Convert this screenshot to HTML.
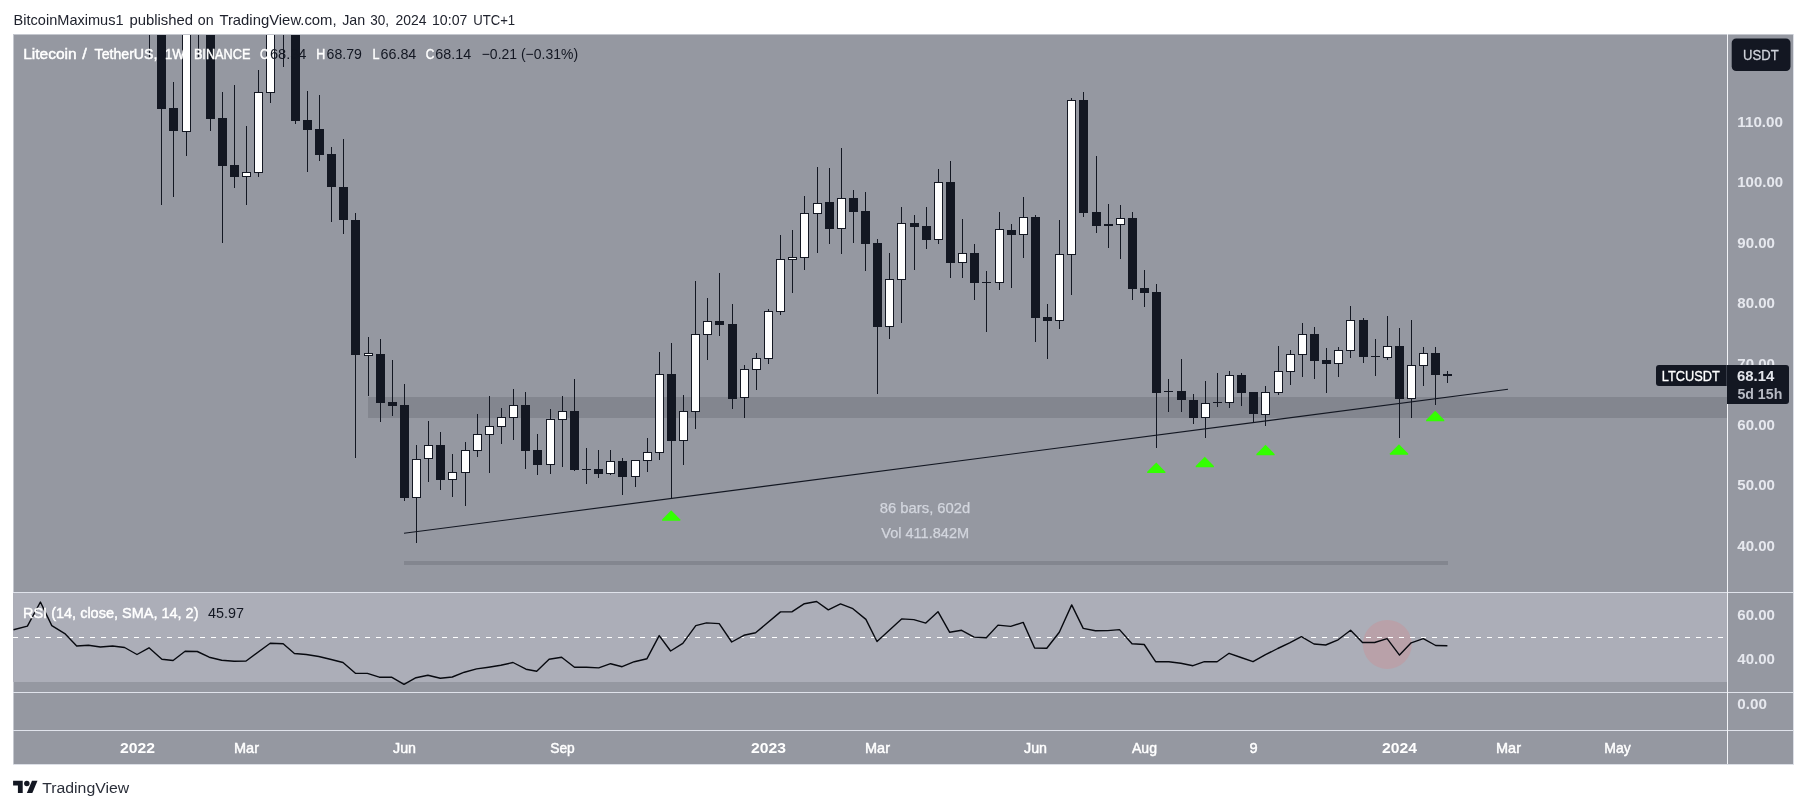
<!DOCTYPE html>
<html lang="en"><head><meta charset="utf-8"><title>LTCUSDT chart</title>
<style>
html,body{margin:0;padding:0;background:#fff;}
body{width:1807px;height:809px;overflow:hidden;position:relative;}
svg{position:absolute;left:0;top:0;display:block;will-change:transform;}
text{font-family:"Liberation Sans",sans-serif;font-size:14.6px;}
.b{font-weight:bold;stroke:none !important;font-size:15.2px;}
.ax{fill:#e6e8ee;}
.lt{fill:#ffffff;stroke:#ffffff;stroke-width:0.45px;}
.dk{fill:#131722;}
</style></head><body>
<svg width="1807" height="809" viewBox="0 0 1807 809">
<text x="13.6" y="24.9" textLength="110.0" lengthAdjust="spacingAndGlyphs" fill="#20232e">BitcoinMaximus1</text>
<text x="129.4" y="24.9" textLength="63.6" lengthAdjust="spacingAndGlyphs" fill="#20232e">published</text>
<text x="197.8" y="24.9" textLength="15.8" lengthAdjust="spacingAndGlyphs" fill="#20232e">on</text>
<text x="219.4" y="24.9" textLength="117.2" lengthAdjust="spacingAndGlyphs" fill="#20232e">TradingView.com,</text>
<text x="342.2" y="24.9" textLength="23.0" lengthAdjust="spacingAndGlyphs" fill="#20232e">Jan</text>
<text x="370.2" y="24.9" textLength="18.8" lengthAdjust="spacingAndGlyphs" fill="#20232e">30,</text>
<text x="395.6" y="24.9" textLength="31.0" lengthAdjust="spacingAndGlyphs" fill="#20232e">2024</text>
<text x="432.0" y="24.9" textLength="35.4" lengthAdjust="spacingAndGlyphs" fill="#20232e">10:07</text>
<text x="473.2" y="24.9" textLength="42.0" lengthAdjust="spacingAndGlyphs" fill="#20232e">UTC+1</text>
<g shape-rendering="crispEdges">
<rect x="13" y="34" width="1781" height="731" fill="#dcdfe6"/>
<rect x="13" y="34" width="1780" height="730" fill="#c4c7ce"/>
<rect x="14" y="35" width="1779" height="729" fill="#9598a1"/>
<rect x="368" y="397" width="1359" height="21" fill="#83868f"/>
<rect x="404" y="561" width="1044" height="4" fill="#83868f"/>
<rect x="13" y="593" width="1714" height="89" fill="#acaeb8"/>
</g>
<circle cx="1387.3" cy="644.4" r="24.5" fill="#b9a1a9"/>
<line x1="13" y1="637.5" x2="1727" y2="637.5" stroke="#ffffff" stroke-width="1" stroke-dasharray="5 6" shape-rendering="crispEdges"/>
<text x="879.8" y="512.9" textLength="90.5" lengthAdjust="spacingAndGlyphs" fill="#d3d6de" stroke="#d3d6de" stroke-width="0.25">86 bars, 602d</text>
<text x="881.3" y="537.6" textLength="87.8" lengthAdjust="spacingAndGlyphs" fill="#d3d6de" stroke="#d3d6de" stroke-width="0.25">Vol 411.842M</text>
<clipPath id="cp"><rect x="14" y="35" width="1713" height="557"/></clipPath>
<g shape-rendering="crispEdges" clip-path="url(#cp)">
<rect x="149" y="34" width="1" height="24" fill="#131722"/>
<rect x="161" y="34" width="1" height="171" fill="#131722"/>
<rect x="157" y="34" width="9" height="75" fill="#131722"/>
<rect x="173" y="82" width="1" height="115" fill="#131722"/>
<rect x="169" y="108" width="9" height="23" fill="#131722"/>
<rect x="186" y="30" width="1" height="126" fill="#131722"/>
<rect x="182" y="30" width="9" height="102" fill="#131722"/>
<rect x="183" y="31" width="7" height="100" fill="#ffffff"/>
<rect x="198" y="34" width="1" height="23" fill="#131722"/>
<rect x="210" y="34" width="1" height="97" fill="#131722"/>
<rect x="206" y="34" width="9" height="85" fill="#131722"/>
<rect x="222" y="92" width="1" height="151" fill="#131722"/>
<rect x="218" y="118" width="9" height="48" fill="#131722"/>
<rect x="234" y="85" width="1" height="103" fill="#131722"/>
<rect x="230" y="165" width="9" height="12" fill="#131722"/>
<rect x="246" y="126" width="1" height="79" fill="#131722"/>
<rect x="242" y="172" width="9" height="5" fill="#131722"/>
<rect x="243" y="173" width="7" height="3" fill="#ffffff"/>
<rect x="258" y="70" width="1" height="107" fill="#131722"/>
<rect x="254" y="92" width="9" height="81" fill="#131722"/>
<rect x="255" y="93" width="7" height="79" fill="#ffffff"/>
<rect x="270" y="30" width="1" height="73" fill="#131722"/>
<rect x="266" y="30" width="9" height="63" fill="#131722"/>
<rect x="267" y="31" width="7" height="61" fill="#ffffff"/>
<rect x="283" y="34" width="1" height="33" fill="#131722"/>
<rect x="295" y="34" width="1" height="90" fill="#131722"/>
<rect x="291" y="34" width="9" height="87" fill="#131722"/>
<rect x="307" y="91" width="1" height="81" fill="#131722"/>
<rect x="303" y="120" width="9" height="10" fill="#131722"/>
<rect x="319" y="95" width="1" height="66" fill="#131722"/>
<rect x="315" y="129" width="9" height="26" fill="#131722"/>
<rect x="331" y="147" width="1" height="75" fill="#131722"/>
<rect x="327" y="154" width="9" height="33" fill="#131722"/>
<rect x="343" y="139" width="1" height="95" fill="#131722"/>
<rect x="339" y="187" width="9" height="33" fill="#131722"/>
<rect x="355" y="213" width="1" height="245" fill="#131722"/>
<rect x="351" y="220" width="9" height="135" fill="#131722"/>
<rect x="368" y="337" width="1" height="59" fill="#131722"/>
<rect x="364" y="353" width="9" height="3" fill="#131722"/>
<rect x="365" y="354" width="7" height="1" fill="#ffffff"/>
<rect x="380" y="339" width="1" height="83" fill="#131722"/>
<rect x="376" y="354" width="9" height="49" fill="#131722"/>
<rect x="392" y="360" width="1" height="56" fill="#131722"/>
<rect x="388" y="402" width="9" height="4" fill="#131722"/>
<rect x="404" y="384" width="1" height="117" fill="#131722"/>
<rect x="400" y="405" width="9" height="93" fill="#131722"/>
<rect x="416" y="445" width="1" height="98" fill="#131722"/>
<rect x="412" y="459" width="9" height="39" fill="#131722"/>
<rect x="413" y="460" width="7" height="37" fill="#ffffff"/>
<rect x="428" y="421" width="1" height="61" fill="#131722"/>
<rect x="424" y="445" width="9" height="14" fill="#131722"/>
<rect x="425" y="446" width="7" height="12" fill="#ffffff"/>
<rect x="440" y="432" width="1" height="58" fill="#131722"/>
<rect x="436" y="445" width="9" height="35" fill="#131722"/>
<rect x="452" y="454" width="1" height="43" fill="#131722"/>
<rect x="448" y="472" width="9" height="8" fill="#131722"/>
<rect x="449" y="473" width="7" height="6" fill="#ffffff"/>
<rect x="465" y="442" width="1" height="64" fill="#131722"/>
<rect x="461" y="450" width="9" height="23" fill="#131722"/>
<rect x="462" y="451" width="7" height="21" fill="#ffffff"/>
<rect x="477" y="414" width="1" height="43" fill="#131722"/>
<rect x="473" y="434" width="9" height="17" fill="#131722"/>
<rect x="474" y="435" width="7" height="15" fill="#ffffff"/>
<rect x="489" y="396" width="1" height="77" fill="#131722"/>
<rect x="485" y="426" width="9" height="9" fill="#131722"/>
<rect x="486" y="427" width="7" height="7" fill="#ffffff"/>
<rect x="501" y="408" width="1" height="36" fill="#131722"/>
<rect x="497" y="417" width="9" height="10" fill="#131722"/>
<rect x="498" y="418" width="7" height="8" fill="#ffffff"/>
<rect x="513" y="389" width="1" height="51" fill="#131722"/>
<rect x="509" y="405" width="9" height="13" fill="#131722"/>
<rect x="510" y="406" width="7" height="11" fill="#ffffff"/>
<rect x="525" y="392" width="1" height="77" fill="#131722"/>
<rect x="521" y="405" width="9" height="46" fill="#131722"/>
<rect x="537" y="434" width="1" height="41" fill="#131722"/>
<rect x="533" y="450" width="9" height="15" fill="#131722"/>
<rect x="550" y="409" width="1" height="65" fill="#131722"/>
<rect x="546" y="419" width="9" height="46" fill="#131722"/>
<rect x="547" y="420" width="7" height="44" fill="#ffffff"/>
<rect x="562" y="396" width="1" height="71" fill="#131722"/>
<rect x="558" y="411" width="9" height="9" fill="#131722"/>
<rect x="559" y="412" width="7" height="7" fill="#ffffff"/>
<rect x="574" y="379" width="1" height="92" fill="#131722"/>
<rect x="570" y="411" width="9" height="59" fill="#131722"/>
<rect x="586" y="448" width="1" height="36" fill="#131722"/>
<rect x="582" y="469" width="9" height="1" fill="#131722"/>
<rect x="598" y="450" width="1" height="28" fill="#131722"/>
<rect x="594" y="469" width="9" height="5" fill="#131722"/>
<rect x="610" y="450" width="1" height="25" fill="#131722"/>
<rect x="606" y="461" width="9" height="13" fill="#131722"/>
<rect x="607" y="462" width="7" height="11" fill="#ffffff"/>
<rect x="622" y="458" width="1" height="37" fill="#131722"/>
<rect x="618" y="461" width="9" height="16" fill="#131722"/>
<rect x="635" y="460" width="1" height="27" fill="#131722"/>
<rect x="631" y="460" width="9" height="17" fill="#131722"/>
<rect x="632" y="461" width="7" height="15" fill="#ffffff"/>
<rect x="647" y="438" width="1" height="34" fill="#131722"/>
<rect x="643" y="452" width="9" height="9" fill="#131722"/>
<rect x="644" y="453" width="7" height="7" fill="#ffffff"/>
<rect x="659" y="352" width="1" height="108" fill="#131722"/>
<rect x="655" y="374" width="9" height="79" fill="#131722"/>
<rect x="656" y="375" width="7" height="77" fill="#ffffff"/>
<rect x="671" y="343" width="1" height="156" fill="#131722"/>
<rect x="667" y="374" width="9" height="67" fill="#131722"/>
<rect x="683" y="395" width="1" height="70" fill="#131722"/>
<rect x="679" y="411" width="9" height="30" fill="#131722"/>
<rect x="680" y="412" width="7" height="28" fill="#ffffff"/>
<rect x="695" y="281" width="1" height="148" fill="#131722"/>
<rect x="691" y="334" width="9" height="78" fill="#131722"/>
<rect x="692" y="335" width="7" height="76" fill="#ffffff"/>
<rect x="707" y="298" width="1" height="62" fill="#131722"/>
<rect x="703" y="321" width="9" height="14" fill="#131722"/>
<rect x="704" y="322" width="7" height="12" fill="#ffffff"/>
<rect x="719" y="273" width="1" height="63" fill="#131722"/>
<rect x="715" y="321" width="9" height="4" fill="#131722"/>
<rect x="732" y="304" width="1" height="105" fill="#131722"/>
<rect x="728" y="324" width="9" height="75" fill="#131722"/>
<rect x="744" y="365" width="1" height="53" fill="#131722"/>
<rect x="740" y="369" width="9" height="29" fill="#131722"/>
<rect x="741" y="370" width="7" height="27" fill="#ffffff"/>
<rect x="756" y="353" width="1" height="37" fill="#131722"/>
<rect x="752" y="358" width="9" height="12" fill="#131722"/>
<rect x="753" y="359" width="7" height="10" fill="#ffffff"/>
<rect x="768" y="309" width="1" height="55" fill="#131722"/>
<rect x="764" y="311" width="9" height="48" fill="#131722"/>
<rect x="765" y="312" width="7" height="46" fill="#ffffff"/>
<rect x="780" y="235" width="1" height="80" fill="#131722"/>
<rect x="776" y="259" width="9" height="53" fill="#131722"/>
<rect x="777" y="260" width="7" height="51" fill="#ffffff"/>
<rect x="792" y="230" width="1" height="63" fill="#131722"/>
<rect x="788" y="257" width="9" height="3" fill="#131722"/>
<rect x="789" y="258" width="7" height="1" fill="#ffffff"/>
<rect x="804" y="196" width="1" height="74" fill="#131722"/>
<rect x="800" y="213" width="9" height="45" fill="#131722"/>
<rect x="801" y="214" width="7" height="43" fill="#ffffff"/>
<rect x="817" y="167" width="1" height="86" fill="#131722"/>
<rect x="813" y="203" width="9" height="11" fill="#131722"/>
<rect x="814" y="204" width="7" height="9" fill="#ffffff"/>
<rect x="829" y="168" width="1" height="76" fill="#131722"/>
<rect x="825" y="202" width="9" height="27" fill="#131722"/>
<rect x="841" y="148" width="1" height="106" fill="#131722"/>
<rect x="837" y="198" width="9" height="31" fill="#131722"/>
<rect x="838" y="199" width="7" height="29" fill="#ffffff"/>
<rect x="853" y="190" width="1" height="53" fill="#131722"/>
<rect x="849" y="198" width="9" height="14" fill="#131722"/>
<rect x="865" y="192" width="1" height="79" fill="#131722"/>
<rect x="861" y="211" width="9" height="33" fill="#131722"/>
<rect x="877" y="239" width="1" height="155" fill="#131722"/>
<rect x="873" y="243" width="9" height="84" fill="#131722"/>
<rect x="889" y="253" width="1" height="86" fill="#131722"/>
<rect x="885" y="279" width="9" height="48" fill="#131722"/>
<rect x="886" y="280" width="7" height="46" fill="#ffffff"/>
<rect x="901" y="207" width="1" height="116" fill="#131722"/>
<rect x="897" y="223" width="9" height="57" fill="#131722"/>
<rect x="898" y="224" width="7" height="55" fill="#ffffff"/>
<rect x="914" y="215" width="1" height="55" fill="#131722"/>
<rect x="910" y="223" width="9" height="4" fill="#131722"/>
<rect x="926" y="207" width="1" height="42" fill="#131722"/>
<rect x="922" y="226" width="9" height="14" fill="#131722"/>
<rect x="938" y="169" width="1" height="75" fill="#131722"/>
<rect x="934" y="182" width="9" height="58" fill="#131722"/>
<rect x="935" y="183" width="7" height="56" fill="#ffffff"/>
<rect x="950" y="161" width="1" height="117" fill="#131722"/>
<rect x="946" y="182" width="9" height="81" fill="#131722"/>
<rect x="962" y="219" width="1" height="59" fill="#131722"/>
<rect x="958" y="253" width="9" height="10" fill="#131722"/>
<rect x="959" y="254" width="7" height="8" fill="#ffffff"/>
<rect x="974" y="244" width="1" height="56" fill="#131722"/>
<rect x="970" y="253" width="9" height="30" fill="#131722"/>
<rect x="986" y="271" width="1" height="61" fill="#131722"/>
<rect x="982" y="282" width="9" height="1" fill="#131722"/>
<rect x="999" y="212" width="1" height="78" fill="#131722"/>
<rect x="995" y="229" width="9" height="54" fill="#131722"/>
<rect x="996" y="230" width="7" height="52" fill="#ffffff"/>
<rect x="1011" y="224" width="1" height="64" fill="#131722"/>
<rect x="1007" y="230" width="9" height="5" fill="#131722"/>
<rect x="1023" y="197" width="1" height="61" fill="#131722"/>
<rect x="1019" y="217" width="9" height="18" fill="#131722"/>
<rect x="1020" y="218" width="7" height="16" fill="#ffffff"/>
<rect x="1035" y="215" width="1" height="127" fill="#131722"/>
<rect x="1031" y="217" width="9" height="101" fill="#131722"/>
<rect x="1047" y="304" width="1" height="55" fill="#131722"/>
<rect x="1043" y="317" width="9" height="4" fill="#131722"/>
<rect x="1059" y="220" width="1" height="109" fill="#131722"/>
<rect x="1055" y="254" width="9" height="67" fill="#131722"/>
<rect x="1056" y="255" width="7" height="65" fill="#ffffff"/>
<rect x="1071" y="98" width="1" height="197" fill="#131722"/>
<rect x="1067" y="100" width="9" height="155" fill="#131722"/>
<rect x="1068" y="101" width="7" height="153" fill="#ffffff"/>
<rect x="1083" y="92" width="1" height="125" fill="#131722"/>
<rect x="1079" y="100" width="9" height="113" fill="#131722"/>
<rect x="1096" y="156" width="1" height="77" fill="#131722"/>
<rect x="1092" y="212" width="9" height="14" fill="#131722"/>
<rect x="1108" y="204" width="1" height="44" fill="#131722"/>
<rect x="1104" y="224" width="9" height="2" fill="#131722"/>
<rect x="1120" y="205" width="1" height="54" fill="#131722"/>
<rect x="1116" y="218" width="9" height="7" fill="#131722"/>
<rect x="1117" y="219" width="7" height="5" fill="#ffffff"/>
<rect x="1132" y="212" width="1" height="88" fill="#131722"/>
<rect x="1128" y="218" width="9" height="71" fill="#131722"/>
<rect x="1144" y="270" width="1" height="37" fill="#131722"/>
<rect x="1140" y="288" width="9" height="5" fill="#131722"/>
<rect x="1156" y="284" width="1" height="164" fill="#131722"/>
<rect x="1152" y="292" width="9" height="101" fill="#131722"/>
<rect x="1168" y="379" width="1" height="33" fill="#131722"/>
<rect x="1164" y="391" width="9" height="1" fill="#131722"/>
<rect x="1181" y="359" width="1" height="53" fill="#131722"/>
<rect x="1177" y="391" width="9" height="9" fill="#131722"/>
<rect x="1193" y="394" width="1" height="30" fill="#131722"/>
<rect x="1189" y="400" width="9" height="18" fill="#131722"/>
<rect x="1205" y="381" width="1" height="57" fill="#131722"/>
<rect x="1201" y="403" width="9" height="15" fill="#131722"/>
<rect x="1202" y="404" width="7" height="13" fill="#ffffff"/>
<rect x="1217" y="373" width="1" height="34" fill="#131722"/>
<rect x="1213" y="402" width="9" height="1" fill="#131722"/>
<rect x="1229" y="371" width="1" height="37" fill="#131722"/>
<rect x="1225" y="375" width="9" height="28" fill="#131722"/>
<rect x="1226" y="376" width="7" height="26" fill="#ffffff"/>
<rect x="1241" y="373" width="1" height="33" fill="#131722"/>
<rect x="1237" y="375" width="9" height="18" fill="#131722"/>
<rect x="1253" y="392" width="1" height="30" fill="#131722"/>
<rect x="1249" y="392" width="9" height="22" fill="#131722"/>
<rect x="1265" y="386" width="1" height="40" fill="#131722"/>
<rect x="1261" y="392" width="9" height="23" fill="#131722"/>
<rect x="1262" y="393" width="7" height="21" fill="#ffffff"/>
<rect x="1278" y="346" width="1" height="49" fill="#131722"/>
<rect x="1274" y="371" width="9" height="22" fill="#131722"/>
<rect x="1275" y="372" width="7" height="20" fill="#ffffff"/>
<rect x="1290" y="350" width="1" height="35" fill="#131722"/>
<rect x="1286" y="354" width="9" height="18" fill="#131722"/>
<rect x="1287" y="355" width="7" height="16" fill="#ffffff"/>
<rect x="1302" y="323" width="1" height="54" fill="#131722"/>
<rect x="1298" y="334" width="9" height="21" fill="#131722"/>
<rect x="1299" y="335" width="7" height="19" fill="#ffffff"/>
<rect x="1314" y="327" width="1" height="52" fill="#131722"/>
<rect x="1310" y="334" width="9" height="27" fill="#131722"/>
<rect x="1326" y="348" width="1" height="45" fill="#131722"/>
<rect x="1322" y="360" width="9" height="4" fill="#131722"/>
<rect x="1338" y="347" width="1" height="30" fill="#131722"/>
<rect x="1334" y="350" width="9" height="14" fill="#131722"/>
<rect x="1335" y="351" width="7" height="12" fill="#ffffff"/>
<rect x="1350" y="306" width="1" height="52" fill="#131722"/>
<rect x="1346" y="320" width="9" height="31" fill="#131722"/>
<rect x="1347" y="321" width="7" height="29" fill="#ffffff"/>
<rect x="1363" y="318" width="1" height="45" fill="#131722"/>
<rect x="1359" y="320" width="9" height="37" fill="#131722"/>
<rect x="1375" y="339" width="1" height="37" fill="#131722"/>
<rect x="1371" y="356" width="9" height="1" fill="#131722"/>
<rect x="1387" y="316" width="1" height="44" fill="#131722"/>
<rect x="1383" y="346" width="9" height="12" fill="#131722"/>
<rect x="1384" y="347" width="7" height="10" fill="#ffffff"/>
<rect x="1399" y="328" width="1" height="110" fill="#131722"/>
<rect x="1395" y="346" width="9" height="53" fill="#131722"/>
<rect x="1411" y="320" width="1" height="98" fill="#131722"/>
<rect x="1407" y="365" width="9" height="34" fill="#131722"/>
<rect x="1408" y="366" width="7" height="32" fill="#ffffff"/>
<rect x="1423" y="347" width="1" height="39" fill="#131722"/>
<rect x="1419" y="353" width="9" height="13" fill="#131722"/>
<rect x="1420" y="354" width="7" height="11" fill="#ffffff"/>
<rect x="1435" y="347" width="1" height="58" fill="#131722"/>
<rect x="1431" y="353" width="9" height="22" fill="#131722"/>
<rect x="1447" y="371" width="1" height="12" fill="#131722"/>
<rect x="1443" y="374" width="9" height="2" fill="#131722"/>
</g>
<line x1="404" y1="533.3" x2="1508" y2="389.3" stroke="#131722" stroke-width="1.15"/>
<path d="M671.2 510.2 L680.3 519.5 L680.3 520.8 L662.1 520.8 L662.1 519.5 Z" fill="#33ff00"/>
<path d="M1156.3 462.5 L1165.4 471.8 L1165.4 473.1 L1147.2 473.1 L1147.2 471.8 Z" fill="#33ff00"/>
<path d="M1204.8 456.7 L1213.9 466.0 L1213.9 467.3 L1195.7 467.3 L1195.7 466.0 Z" fill="#33ff00"/>
<path d="M1265.5 444.7 L1274.6 454.0 L1274.6 455.3 L1256.4 455.3 L1256.4 454.0 Z" fill="#33ff00"/>
<path d="M1399.0 444.2 L1408.1 453.5 L1408.1 454.8 L1389.9 454.8 L1389.9 453.5 Z" fill="#33ff00"/>
<path d="M1435.2 410.7 L1444.3 420.0 L1444.3 421.3 L1426.1 421.3 L1426.1 420.0 Z" fill="#33ff00"/>
<polyline fill="none" stroke="#07090f" stroke-width="1.4" stroke-linejoin="round" points="13.5,629.8 27.4,626.1 40.4,602.0 51.8,625.6 64.8,633.6 76.7,646.0 88.4,645.3 100.4,647.0 112.6,646.0 124.6,647.5 137.0,654.5 149.0,647.8 161.9,659.2 173.1,660.5 185.1,651.3 197.3,651.5 209.2,657.2 221.7,660.2 234.1,661.2 246.1,661.0 270.2,643.3 283.2,643.8 294.4,653.5 306.3,654.5 318.8,656.5 331.2,659.5 343.0,662.5 355.4,673.2 367.4,673.4 379.3,677.2 391.5,677.2 404.0,684.4 416.0,677.7 427.9,675.2 440.3,678.2 452.3,677.0 464.4,672.2 476.6,668.9 488.6,667.2 500.8,665.2 513.0,662.5 526.0,669.2 536.7,671.2 549.1,659.2 561.6,657.2 574.5,667.2 586.5,667.2 598.7,667.9 610.6,663.7 622.1,666.7 634.3,661.7 647.0,658.7 659.2,635.6 670.6,651.0 682.8,643.3 695.8,625.6 706.5,622.9 719.2,623.6 731.7,642.0 743.9,635.3 755.6,632.8 780.5,611.9 792.2,611.7 804.4,603.7 816.6,601.5 828.3,609.9 840.5,603.9 852.9,608.7 865.9,619.4 877.0,641.5 901.6,618.9 913.8,619.6 925.8,623.1 938.0,611.7 949.7,632.3 961.6,630.3 974.1,637.1 986.3,637.8 998.0,625.1 1010.7,626.4 1023.2,622.4 1034.6,648.0 1046.8,648.3 1059.3,632.3 1071.7,604.9 1083.2,628.4 1095.4,630.8 1107.8,630.6 1119.5,629.6 1132.0,643.8 1144.2,644.5 1155.6,661.7 1168.8,661.7 1180.8,663.2 1193.0,665.7 1204.4,661.7 1217.1,661.7 1229.1,653.3 1241.0,657.5 1253.0,661.7 1265.5,654.7 1277.7,648.5 1289.6,642.8 1301.4,636.7 1314.0,644.0 1325.7,645.0 1338.1,639.8 1350.6,630.3 1362.5,642.5 1374.6,642.5 1387.1,638.6 1399.5,655.1 1411.2,642.8 1423.3,638.6 1435.7,645.5 1447.4,645.8"/>
<text x="23.2" y="58.9" textLength="53.5" lengthAdjust="spacingAndGlyphs" class="lt">Litecoin</text>
<text x="82.3" y="58.9" textLength="4.6" lengthAdjust="spacingAndGlyphs" class="lt">/</text>
<text x="94.6" y="58.9" textLength="62.8" lengthAdjust="spacingAndGlyphs" class="lt">TetherUS,</text>
<text x="164.9" y="58.9" textLength="22.6" lengthAdjust="spacingAndGlyphs" class="lt">1W,</text>
<text x="193.9" y="58.9" textLength="56.5" lengthAdjust="spacingAndGlyphs" class="lt">BINANCE</text>
<text x="259.9" y="58.9" textLength="9.2" lengthAdjust="spacingAndGlyphs" class="lt">O</text>
<text x="269.9" y="58.9" textLength="36.6" lengthAdjust="spacingAndGlyphs" class="dk">68.34</text>
<text x="316.3" y="58.9" textLength="9.0" lengthAdjust="spacingAndGlyphs" class="lt">H</text>
<text x="326.6" y="58.9" textLength="35.4" lengthAdjust="spacingAndGlyphs" class="dk">68.79</text>
<text x="372.5" y="58.9" textLength="7.0" lengthAdjust="spacingAndGlyphs" class="lt">L</text>
<text x="380.5" y="58.9" textLength="35.8" lengthAdjust="spacingAndGlyphs" class="dk">66.84</text>
<text x="425.7" y="58.9" textLength="8.6" lengthAdjust="spacingAndGlyphs" class="lt">C</text>
<text x="435.3" y="58.9" textLength="35.8" lengthAdjust="spacingAndGlyphs" class="dk">68.14</text>
<text x="481.7" y="58.9" textLength="96.4" lengthAdjust="spacingAndGlyphs" class="dk">−0.21 (−0.31%)</text>
<text x="23.0" y="617.9" textLength="175.5" lengthAdjust="spacingAndGlyphs" class="lt">RSI (14, close, SMA, 14, 2)</text>
<text x="208.0" y="617.9" textLength="36.0" lengthAdjust="spacingAndGlyphs" class="dk">45.97</text>
<g shape-rendering="crispEdges" fill="#e0e3eb">
<rect x="13" y="592" width="1780" height="1"/>
<rect x="13" y="692" width="1780" height="1"/>
<rect x="13" y="730" width="1780" height="1"/>
<rect x="1727" y="34" width="1" height="730" fill="#f3f4f8"/>
</g>
<text x="1737.3" y="126.5" textLength="45.7" lengthAdjust="spacingAndGlyphs" class="b ax">110.00</text>
<text x="1737.3" y="187.2" textLength="45.7" lengthAdjust="spacingAndGlyphs" class="b ax">100.00</text>
<text x="1737.3" y="247.8" textLength="37.7" lengthAdjust="spacingAndGlyphs" class="b ax">90.00</text>
<text x="1737.3" y="308.4" textLength="37.7" lengthAdjust="spacingAndGlyphs" class="b ax">80.00</text>
<text x="1737.3" y="369.0" textLength="37.7" lengthAdjust="spacingAndGlyphs" class="b ax">70.00</text>
<text x="1737.3" y="429.6" textLength="37.7" lengthAdjust="spacingAndGlyphs" class="b ax">60.00</text>
<text x="1737.3" y="490.2" textLength="37.7" lengthAdjust="spacingAndGlyphs" class="b ax">50.00</text>
<text x="1737.3" y="550.8" textLength="37.7" lengthAdjust="spacingAndGlyphs" class="b ax">40.00</text>
<text x="1737.3" y="619.8" textLength="37.7" lengthAdjust="spacingAndGlyphs" class="b ax">60.00</text>
<text x="1737.3" y="664.4" textLength="37.7" lengthAdjust="spacingAndGlyphs" class="b ax">40.00</text>
<text x="1737.3" y="708.7" textLength="29.6" lengthAdjust="spacingAndGlyphs" class="b ax">0.00</text>
<rect x="1731.7" y="38.5" width="58.8" height="32.6" rx="4.5" fill="#131722"/>
<text x="1743.1" y="60.2" textLength="35.6" lengthAdjust="spacingAndGlyphs" fill="#cfd2da" stroke="#cfd2da" stroke-width="0.3" style="font-size:15.1px">USDT</text>
<path d="M1659 365 H1727 V386 H1659 Q1656 386 1656 383 V368 Q1656 365 1659 365 Z" fill="#131722"/>
<text x="1661.8" y="381.0" textLength="58.0" lengthAdjust="spacingAndGlyphs" fill="#ffffff" stroke="#ffffff" stroke-width="0.35" style="font-size:15.4px">LTCUSDT</text>
<path d="M1727 365 H1786 Q1789 365 1789 368 V401 Q1789 404 1786 404 H1727 Z" fill="#131722"/>
<rect x="1726" y="365" width="1" height="21" fill="#383c48" shape-rendering="crispEdges"/>
<text x="1737.0" y="381.0" textLength="37.3" lengthAdjust="spacingAndGlyphs" class="b" fill="#e4e6ec">68.14</text>
<text x="1737.4" y="398.8" textLength="44.9" lengthAdjust="spacingAndGlyphs" class="b" fill="#b8bbc4">5d 15h</text>
<text x="137.5" y="753.2" text-anchor="middle" class="lt b" textLength="35.0" lengthAdjust="spacingAndGlyphs">2022</text>
<text x="246.5" y="753.2" text-anchor="middle" class="lt" textLength="25.0" lengthAdjust="spacingAndGlyphs">Mar</text>
<text x="404.5" y="753.2" text-anchor="middle" class="lt" textLength="23.0" lengthAdjust="spacingAndGlyphs">Jun</text>
<text x="562.5" y="753.2" text-anchor="middle" class="lt" textLength="24.5" lengthAdjust="spacingAndGlyphs">Sep</text>
<text x="768.5" y="753.2" text-anchor="middle" class="lt b" textLength="35.0" lengthAdjust="spacingAndGlyphs">2023</text>
<text x="877.5" y="753.2" text-anchor="middle" class="lt" textLength="25.0" lengthAdjust="spacingAndGlyphs">Mar</text>
<text x="1035.5" y="753.2" text-anchor="middle" class="lt" textLength="23.0" lengthAdjust="spacingAndGlyphs">Jun</text>
<text x="1144.5" y="753.2" text-anchor="middle" class="lt" textLength="25.0" lengthAdjust="spacingAndGlyphs">Aug</text>
<text x="1253.5" y="753.2" text-anchor="middle" class="lt">9</text>
<text x="1399.5" y="753.2" text-anchor="middle" class="lt b" textLength="35.0" lengthAdjust="spacingAndGlyphs">2024</text>
<text x="1508.5" y="753.2" text-anchor="middle" class="lt" textLength="25.0" lengthAdjust="spacingAndGlyphs">Mar</text>
<text x="1617.5" y="753.2" text-anchor="middle" class="lt" textLength="26.5" lengthAdjust="spacingAndGlyphs">May</text>
<g transform="translate(13.1 778) scale(0.687)" fill="#131722">
<path d="M14 22H7V11H0V4h14v18z"/><circle cx="20" cy="8" r="4"/><path d="M28 22h-8l7.5-18h8L28 22z"/>
</g>
<text x="42.2" y="792.9" textLength="87.0" lengthAdjust="spacingAndGlyphs" fill="#2a2e39" style="font-size:14.9px">TradingView</text>
</svg>
</body></html>
